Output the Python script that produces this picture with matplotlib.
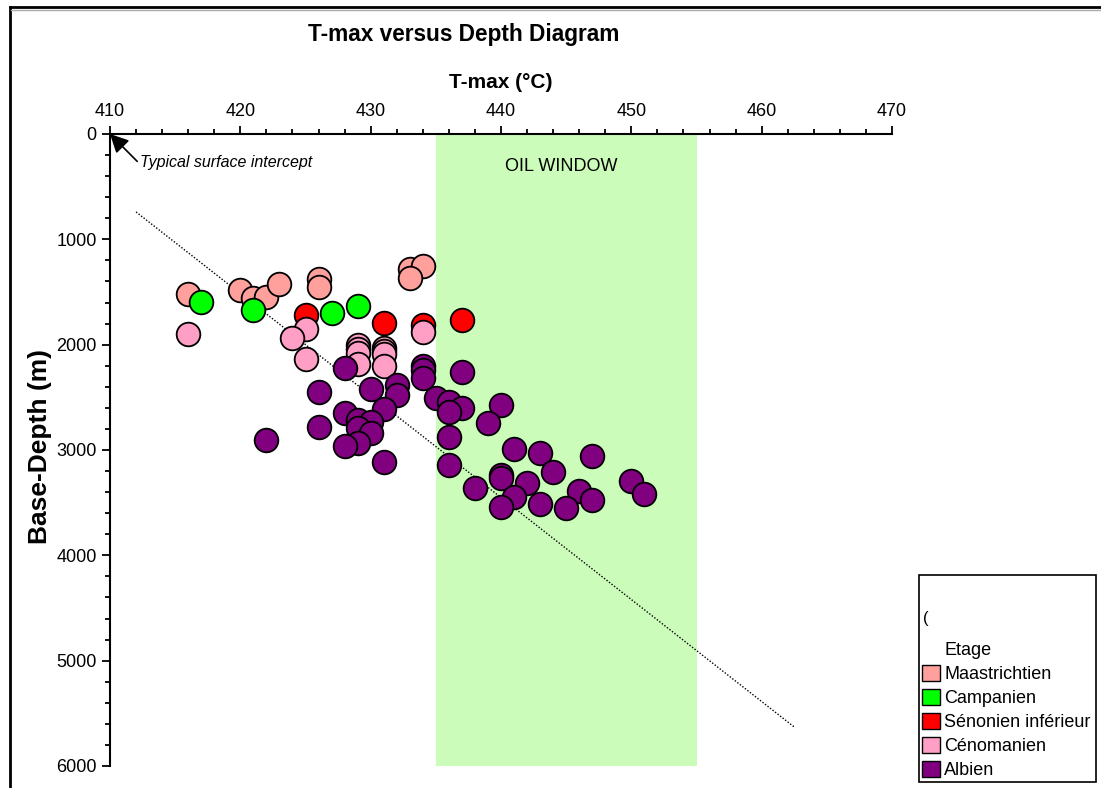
import matplotlib
matplotlib.use("Agg")
import matplotlib.pyplot as plt
from matplotlib.patches import Patch, Rectangle
from matplotlib.lines import Line2D
from matplotlib.ticker import MultipleLocator

plt.rcParams['font.family'] = ['Liberation Sans', 'DejaVu Sans']

# T-max (°C) and base depth (m) for each stage
maas_t = [416, 420, 421, 422, 423, 426, 426, 433, 434, 433]
maas_d = [1520, 1480, 1560, 1545, 1425, 1380, 1450, 1285, 1255, 1370]

camp_t = [417, 421, 427, 429]
camp_d = [1595, 1670, 1695, 1630]

seno_t = [425, 431, 434, 437]
seno_d = [1720, 1790, 1810, 1765]

ceno_t = [434, 425, 416, 424, 429, 431, 429, 431, 429, 431, 425, 429, 431]
ceno_d = [1875, 1850, 1900, 1935, 2000, 2030, 2040, 2060, 2080, 2090, 2140, 2180, 2200]

albi_t = [434, 428, 434, 437, 434, 432, 430, 426, 432, 435, 436, 440, 437, 431,
          436, 428, 429, 430, 439, 426, 429, 430, 436, 422, 429, 428, 441, 443,
          447, 431, 436, 444, 440, 440, 450, 442, 438, 446, 451, 441, 447, 443,
          440, 445]
albi_d = [2205, 2220, 2240, 2260, 2320, 2385, 2425, 2450, 2480, 2510, 2545, 2575, 2605, 2615,
          2635, 2650, 2715, 2730, 2740, 2785, 2795, 2835, 2880, 2905, 2935, 2960, 2990, 3030,
          3060, 3110, 3140, 3210, 3235, 3270, 3295, 3315, 3365, 3385, 3420, 3445, 3475, 3515,
          3540, 3555]

stages = ['Maastrichtien', 'Campanien', 'Sénonien inférieur', 'Cénomanien', 'Albien']
colors = ['#FFA09C', '#00FF00', '#FF0000', '#FF9FC6', '#800080']
groups = [(maas_t, maas_d), (camp_t, camp_d), (seno_t, seno_d), (ceno_t, ceno_d), (albi_t, albi_d)]

# oil window and typical trend line
oil_window = [435, 455]
trend_t = [412, 462.5]
trend_d = [740, 5630]

W, H = 1101, 788
fig = plt.figure(figsize=(W / 100, H / 100), dpi=100)
ax = fig.add_axes([110 / W, 1 - 766 / H, 782 / W, 632 / H])

ax.axvspan(oil_window[0], oil_window[1], color='#CCFCBA', lw=0, zorder=0)
ax.text(sum(oil_window) / 2 - 0.4, 305, 'OIL WINDOW', ha='center', va='center', fontsize=13)

ax.plot(trend_t, trend_d, color='black', lw=1, linestyle=(0, (1, 1.3)), zorder=1)

for (t, d), c in zip(groups, colors):
    ax.scatter(t, d, s=290, c=c, edgecolors='black', linewidths=1.3, zorder=3)

ax.annotate('Typical surface intercept', xy=(410, 0), xytext=(412.3, 272),
            fontsize=11.5, style='italic', ha='left', va='center',
            arrowprops=dict(arrowstyle='-|>', color='black', lw=1.2, mutation_scale=28,
                            shrinkA=0, shrinkB=0, relpos=(0, 0.4)))

ax.set_xlim(410, 470)
ax.set_ylim(6000, 0)
ax.xaxis.tick_top()
ax.xaxis.set_label_position('top')
ax.xaxis.set_major_locator(MultipleLocator(10))
ax.xaxis.set_minor_locator(MultipleLocator(2))
ax.yaxis.set_major_locator(MultipleLocator(1000))
ax.yaxis.set_minor_locator(MultipleLocator(200))
ax.tick_params(which='major', length=6, width=1.3, labelsize=13, direction='out')
ax.tick_params(which='minor', length=3.5, width=1.3, direction='out')
ax.tick_params(axis='x', pad=4)
for side in ['right', 'bottom']:
    ax.spines[side].set_visible(False)
for side in ['top', 'left']:
    ax.spines[side].set_linewidth(1.5)
ax.set_xlabel('T-max (°C)', fontsize=15, fontweight='bold', labelpad=11)

fig.text(40 / W, 1 - 447 / H, 'Base-Depth (m)', rotation=90, ha='center', va='center',
         fontsize=19, fontweight='bold')
fig.text(464 / W, 1 - 34 / H, 'T-max versus Depth Diagram', ha='center', va='center',
         fontsize=16.3, fontweight='bold')

# page border
fig.add_artist(Line2D([9.5 / W, 9.5 / W], [0, 1 - 7 / H], color='black', lw=2))
fig.add_artist(Line2D([9.5 / W, 1], [1 - 7 / H, 1 - 7 / H], color='black', lw=2))
fig.add_artist(Line2D([11 / W, 1], [1 - 9.5 / H, 1 - 9.5 / H], color='#AAAAAA', lw=1))

# legend
fig.add_artist(Rectangle((919 / W, 1 - 782 / H), 177 / W, 207 / H, fill=False,
                         edgecolor='black', lw=1.2, transform=fig.transFigure))
fig.text(923 / W, 1 - 619 / H, '(', fontsize=12, va='center')
handles = [Line2D([], [], linestyle='none')] + \
          [Patch(facecolor=c, edgecolor='black', lw=1) for c in colors]
fig.legend(handles, ['Etage'] + stages, loc='lower left',
           bbox_to_anchor=(920 / W, 1 - 781 / H), frameon=False, fontsize=13,
           handlelength=1.0, handleheight=1.0, handletextpad=0.25, labelspacing=0.32,
           borderpad=0.1, borderaxespad=0)

fig.savefig('out.png', dpi=100)
